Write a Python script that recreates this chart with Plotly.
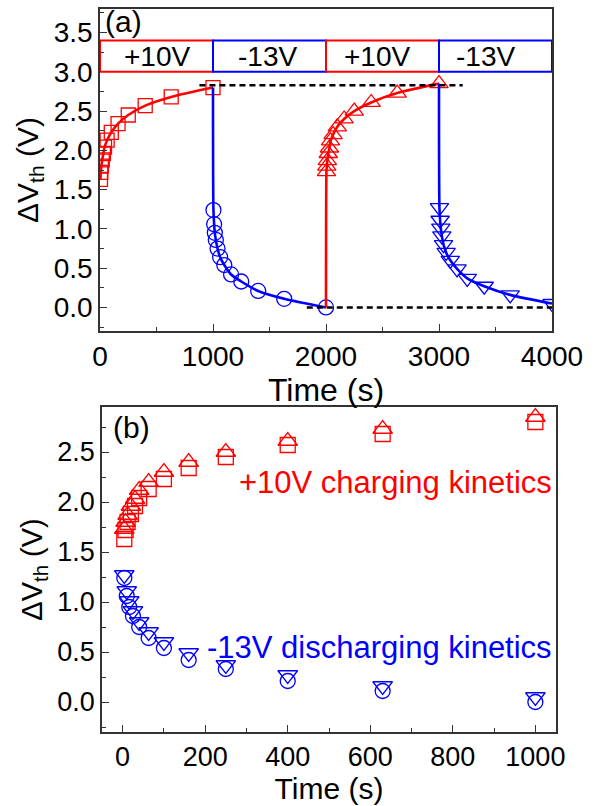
import plotly.graph_objects as go

# ---- measured threshold-voltage shift data ----
# elapsed time inside each bias step (s)
t_charge = [4, 7, 12, 20, 30, 40, 63, 100, 160, 250, 400, 630, 1000]
t_discharge = [4, 10, 16, 25, 40, 63, 100, 160, 250, 400, 630, 1000]

# 1st cycle: +10V charging (squares), -13V discharging (circles)
dvth_charge1 = [1.63, 1.72, 1.80, 1.88, 1.96, 2.04, 2.13, 2.23, 2.34, 2.45, 2.57, 2.68, 2.80]
dvth_discharge1 = [1.24, 1.06, 0.95, 0.86, 0.75, 0.64, 0.54, 0.42, 0.33, 0.21, 0.11, 0.00]
# 2nd cycle: +10V charging (up triangles), -13V discharging (down triangles)
dvth_charge2 = [1.73, 1.80, 1.87, 1.96, 2.03, 2.12, 2.20, 2.30, 2.40, 2.50, 2.61, 2.73, 2.85]
dvth_discharge2 = [1.27, 1.11, 1.01, 0.91, 0.80, 0.70, 0.60, 0.49, 0.37, 0.27, 0.16, 0.05]

# bias sequence
step_labels = ["+10V", "-13V", "+10V", "-13V"]
step_starts = [0, 1000, 2000, 3000]
step_len = 1000

RED = "#FF0000"
BLUE = "#0000FF"
FONT = "Liberation Sans, Arial, sans-serif"

fig = go.Figure()


def shifted(start, ts):
    return [start + t for t in ts]


# ---- panel (a): full sequence vs. time ----
seg_specs = [
    (step_starts[0], t_charge, dvth_charge1, RED, "square", None),
    (step_starts[1], t_discharge, dvth_discharge1, BLUE, "circle", dvth_charge1[-1]),
    (step_starts[2], t_charge, dvth_charge2, RED, "triangle-up", dvth_discharge1[-1]),
    (step_starts[3], t_discharge, dvth_discharge2, BLUE, "triangle-down", dvth_charge2[-1]),
]
marker_size_a = {"square": 14, "circle": 15, "triangle-up": 16, "triangle-down": 16}
for start, ts, vals, col, sym, prev_end in seg_specs:
    xs = shifted(start, ts)
    ys = list(vals)
    if prev_end is not None:
        # switching edge: the step begins from where the previous one ended
        xs = [start] + xs
        ys = [prev_end] + ys
    fig.add_trace(go.Scatter(
        x=xs, y=ys, mode="lines", xaxis="x", yaxis="y",
        line=dict(color=col, width=2.6, shape="spline", smoothing=0.8),
        hoverinfo="skip", showlegend=False))
    fig.add_trace(go.Scatter(
        x=shifted(start, ts), y=vals, mode="markers", xaxis="x", yaxis="y",
        marker=dict(symbol=sym + "-open", size=marker_size_a[sym],
                    color=col, line=dict(color=col, width=1.3)),
        showlegend=False))

# ---- panel (b): both cycles overlaid on step time ----
for ts, vals, col, sym in [
    (t_charge, dvth_charge1, RED, "square"),
    (t_charge, dvth_charge2, RED, "triangle-up"),
    (t_discharge, dvth_discharge1, BLUE, "circle"),
    (t_discharge, dvth_discharge2, BLUE, "triangle-down"),
]:
    fig.add_trace(go.Scatter(
        x=ts, y=vals, mode="markers", xaxis="x2", yaxis="y2",
        marker=dict(symbol=sym + "-open", size=17 if sym.startswith("triangle") else 15,
                    color=col, line=dict(color=col, width=1.3)),
        showlegend=False))

shapes = []
annotations = []
# bias step boxes
for lab, st in zip(step_labels, step_starts):
    col = RED if lab.startswith("+") else BLUE
    shapes.append(dict(type="rect", xref="x", yref="y", x0=st, x1=st + step_len,
                       y0=3.0, y1=3.4, line=dict(color=col, width=2)))
for lab, xc in zip(step_labels, [500, 1480, 2450, 3410]):
    annotations.append(dict(text=lab, x=xc, y=3.2, xref="x", yref="y",
                            showarrow=False, font=dict(size=28, color="black", family=FONT)))
# reference levels
shapes.append(dict(type="line", xref="x", yref="y", x0=880, x1=3210, y0=2.83, y1=2.83,
                   line=dict(color="black", width=2.4, dash="6px,4px")))
shapes.append(dict(type="line", xref="x", yref="y", x0=1830, x1=4000, y0=0, y1=0,
                   line=dict(color="black", width=2.4, dash="6px,4px")))

annotations += [
    dict(text="(a)", x=25, y=3.64, xref="x", yref="y", xanchor="left", yanchor="middle",
         showarrow=False, font=dict(size=30, color="black", family=FONT)),
    dict(text="(b)", x=-28, y=2.75, xref="x2", yref="y2", xanchor="left", yanchor="middle",
         showarrow=False, font=dict(size=30, color="black", family=FONT)),
    dict(text="+10V charging kinetics", x=1046, y=2.2, xref="x2", yref="y2",
         xanchor="right", yanchor="middle", showarrow=False,
         font=dict(size=31, color=RED, family=FONT)),
    dict(text="-13V discharging kinetics", x=1046, y=0.55, xref="x2", yref="y2",
         xanchor="right", yanchor="middle", showarrow=False,
         font=dict(size=31, color=BLUE, family=FONT)),
]

W, H = 596, 806


def axis_common(size):
    return dict(showline=True, linecolor="#333333", linewidth=1.6, mirror=True,
                ticks="inside", ticklen=7, tickwidth=1.4, tickcolor="#333333",
                showgrid=False, zeroline=False, automargin=False,
                tickfont=dict(size=size, color="black", family=FONT))


xa = axis_common(28)
xa.update(domain=[100 / W, 552 / W], range=[0, 4000], dtick=1000, tick0=0,
          minor=dict(dtick=500, ticks="inside", ticklen=4, tickcolor="#333333"),
          title=dict(text="Time (s)", font=dict(size=32, color="black", family=FONT), standoff=2),
          anchor="y")
ya = axis_common(28)
ya.update(domain=[1 - 331 / H, 1 - 9 / H], range=[-0.3, 3.8], dtick=0.5, tick0=0,
          tickformat=".1f",
          minor=dict(dtick=0.25, ticks="inside", ticklen=4, tickcolor="#333333"),
          title=dict(text="ΔV<sub>th</sub> (V)", font=dict(size=30, color="black", family=FONT),
                     standoff=6),
          anchor="x")
xb = axis_common(27)
xb.update(domain=[102 / W, 556 / W], range=[-50, 1050], dtick=200, tick0=0,
          minor=dict(dtick=100, ticks="inside", ticklen=4, tickcolor="#333333"),
          title=dict(text="Time (s)", font=dict(size=30, color="black", family=FONT), standoff=0),
          anchor="y2")
yb = axis_common(27)
yb.update(domain=[1 - 732 / H, 1 - 407 / H], range=[-0.3, 2.95], dtick=0.5, tick0=0,
          tickformat=".1f",
          minor=dict(dtick=0.25, ticks="inside", ticklen=4, tickcolor="#333333"),
          title=dict(text="ΔV<sub>th</sub> (V)", font=dict(size=29, color="black", family=FONT),
                     standoff=6),
          anchor="x2")

fig.update_layout(
    template="none",
    width=W, height=H,
    margin=dict(l=0, r=0, t=0, b=0, autoexpand=False),
    paper_bgcolor="white", plot_bgcolor="white",
    font=dict(family=FONT, color="black"),
    xaxis=xa, yaxis=ya, xaxis2=xb, yaxis2=yb,
    shapes=shapes, annotations=annotations,
    showlegend=False,
)

fig.write_html("out.html")
